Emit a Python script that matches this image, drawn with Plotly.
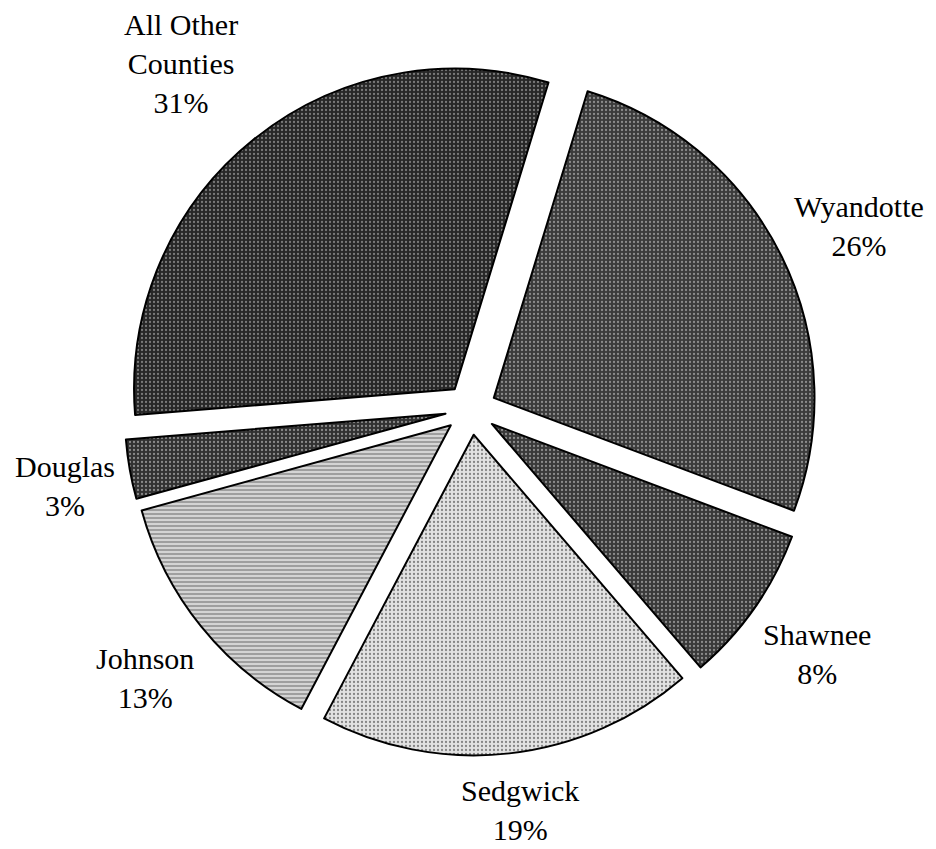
import plotly.graph_objects as go

# County shares, clockwise from the top
counties = ["Wyandotte", "Shawnee", "Sedgwick", "Johnson", "Douglas", "All Other<br>Counties"]
shares = [26, 8, 19, 13, 3, 31]

# Grey halftone-like fills
base_colors = ["#3b3b3b", "#393939", "#e2e2e2", "#d4d4d4", "#313131", "#272727"]
grain_colors = ["#8c8c8c", "#8c8c8c", "#858585", "#6a6a6a", "#8a8a8a", "#7a7a7a"]
grain_shapes = [".", ".", ".", "-", ".", "."]

# Label anchor points (paper fraction)
label_x = [0.918, 0.873, 0.556, 0.155, 0.069, 0.193]
label_y = [0.734, 0.230, 0.046, 0.201, 0.428, 0.925]

fig = go.Figure(
    go.Pie(
        labels=counties,
        values=shares,
        sort=False,
        direction="clockwise",
        rotation=17,
        pull=0.08,
        textinfo="none",
        hoverinfo="label+percent",
        showlegend=False,
        domain=dict(x=[0.133, 0.873], y=[0.109, 0.927]),
        marker=dict(
            colors=base_colors,
            line=dict(color="#000000", width=2),
            pattern=dict(
                shape=grain_shapes,
                fgcolor=grain_colors,
                bgcolor=base_colors,
                size=4,
                solidity=0.25,
                fillmode="replace",
            ),
        ),
    )
)

for name, val, x, y in zip(counties, shares, label_x, label_y):
    fig.add_annotation(
        x=x, y=y, xref="paper", yref="paper",
        xanchor="center", yanchor="middle",
        text=f"{name}<br>{val}%",
        showarrow=False, align="center",
        font=dict(family="Liberation Serif", size=30, color="#000000"),
    )

fig.update_layout(
    width=936, height=849,
    margin=dict(l=0, r=0, t=0, b=0),
    paper_bgcolor="#ffffff",
    plot_bgcolor="#ffffff",
)

fig.write_html("out.html")
